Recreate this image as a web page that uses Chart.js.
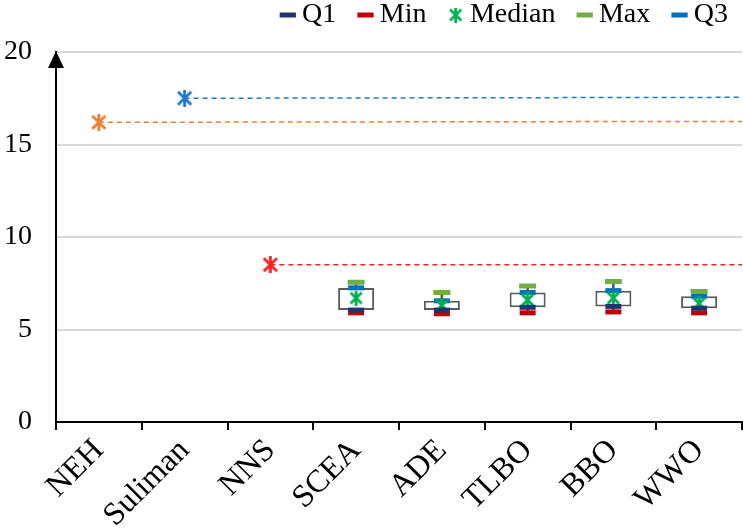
<!DOCTYPE html>
<html lang="en">
<head>
    <meta charset="UTF-8">
    <title>Box plot comparison</title>
    <script src="https://cdn.jsdelivr.net/npm/chart.js"></script>
    <style>
        body { margin: 0; background: #fff; }
        #wrap { width: 743px; height: 528px; position: relative; }
    </style>
</head>
<body>
<div id="wrap"><canvas id="boxChart"></canvas></div>
<script>
// categories and values
const categories = ['NEH', 'Suliman', 'NNS', 'SCEA', 'ADE', 'TLBO', 'BBO', 'WWO'];
const q1Vals     = [null, null, null, 6.05, 6.05, 6.2, 6.25, 6.15];
const minVals    = [null, null, null, 5.9, 5.85, 5.9, 5.95, 5.9];
const medianVals = [null, null, null, 6.7, 6.3, 6.6, 6.7, 6.4];
const maxVals    = [null, null, null, 7.55, 7.0, 7.35, 7.6, 7.05];
const q3Vals     = [null, null, null, 7.25, 6.55, 7.0, 7.1, 6.8];

// single results of the constructive methods (dashed reference lines)
const refIndex = [0, 1, 2];
const refStart = [16.2, 17.5, 8.5];
const refEnd   = [16.25, 17.55, 8.5];
const refColors = ['#ED7D31', '#1F78CC', '#FF1F1F'];

const yTicks = [0, 5, 10, 15, 20];

const FONT = '"Liberation Serif", "Times New Roman", serif';

// asterisk marker (X with a vertical bar)
function makeStar(color, size, lw) {
    const c = document.createElement('canvas');
    c.width = size; c.height = size;
    const g = c.getContext('2d');
    g.strokeStyle = color;
    g.lineWidth = lw;
    const p = lw / 2 + 0.5;
    g.beginPath();
    g.moveTo(p, p); g.lineTo(size - p, size - p);
    g.moveTo(size - p, p); g.lineTo(p, size - p);
    g.moveTo(size / 2, 0); g.lineTo(size / 2, size);
    g.stroke();
    return c;
}

function markerSet(label, values, color, style, radius) {
    return {
        type: 'line',
        label: label,
        data: values,
        showLine: false,
        pointStyle: style,
        pointRadius: radius,
        pointBorderWidth: 5,
        pointBorderColor: color,
        pointBackgroundColor: color,
        borderColor: color,
        backgroundColor: color,
        order: 0
    };
}

const datasets = [
    markerSet('Q1', q1Vals, '#1F3470', 'line', 8),
    markerSet('Min', minVals, '#C00000', 'line', 8),
    markerSet('Median', medianVals, '#00B050', makeStar('#00B050', 15, 2.8), 8),
    markerSet('Max', maxVals, '#70AD47', 'line', 8.5),
    markerSet('Q3', q3Vals, '#0070C0', 'line', 8),
    {
        type: 'bar',
        label: 'box',
        data: categories.map((c, i) => q1Vals[i] == null ? null : [q1Vals[i], q3Vals[i]]),
        backgroundColor: '#ffffff',
        borderColor: '#5a5a5a',
        borderWidth: 2,
        borderSkipped: false,
        grouped: false,
        barPercentage: 0.42,
        categoryPercentage: 1,
        order: 5
    },
    {
        type: 'bar',
        label: 'whisker',
        data: categories.map((c, i) => minVals[i] == null ? null : [minVals[i], maxVals[i]]),
        backgroundColor: '#5a5a5a',
        borderWidth: 0,
        grouped: false,
        barThickness: 2,
        order: 6
    }
];

refIndex.forEach((idx, k) => {
    datasets.push({
        type: 'line',
        label: categories[idx],
        xAxisID: 'x2',
        data: [{x: idx, y: refStart[k]}, {x: categories.length - 0.5, y: refEnd[k]}],
        borderColor: refColors[k],
        borderWidth: 1.5,
        borderDash: [5, 4],
        pointStyle: makeStar(refColors[k], 17, 2.8),
        pointRadius: [8, 0],
        order: 2
    });
});

// arrow at the top of the value axis
const axisArrow = {
    id: 'axisArrow',
    afterDraw(chart) {
        const a = chart.chartArea;
        const ctx = chart.ctx;
        ctx.save();
        ctx.fillStyle = '#000';
        ctx.beginPath();
        ctx.moveTo(a.left, a.top - 1);
        ctx.lineTo(a.left - 8, a.top + 16);
        ctx.lineTo(a.left + 8, a.top + 16);
        ctx.closePath();
        ctx.fill();
        ctx.restore();
    }
};

new Chart(document.getElementById('boxChart'), {
    type: 'line',
    data: { labels: categories, datasets: datasets },
    plugins: [axisArrow],
    options: {
        responsive: true,
        maintainAspectRatio: false,
        animation: false,
        layout: { autoPadding: false, padding: { top: -28, right: -14, bottom: 0, left: 0 } },
        plugins: {
            tooltip: { enabled: false },
            legend: {
                position: 'top',
                align: 'end',
                labels: {
                    filter: (item) => ['Q1', 'Min', 'Median', 'Max', 'Q3'].includes(item.text),
                    usePointStyle: true,
                    boxWidth: 0.5,
                    boxHeight: 11.5,
                    padding: 29,
                    color: '#000',
                    font: { family: FONT, size: 28 }
                }
            }
        },
        scales: {
            x: {
                type: 'category',
                offset: true,
                grid: {
                    offset: true,
                    drawOnChartArea: false,
                    drawTicks: true,
                    tickLength: 8,
                    color: '#000',
                    lineWidth: 2
                },
                border: { color: '#000', width: 2 },
                ticks: {
                    color: '#000',
                    font: { family: FONT, size: 32 },
                    minRotation: 45,
                    maxRotation: 45,
                    autoSkip: false,
                    padding: 2
                },
                afterFit: (scale) => { scale.height = 106; scale.paddingLeft = 0; scale.paddingRight = 1; }
            },
            // hidden linear twin of the category axis, also used as a spacer under the legend
            x2: {
                type: 'linear',
                position: 'top',
                min: -0.5,
                max: categories.length - 0.5,
                grid: { display: false },
                border: { display: false },
                ticks: { display: false },
                afterFit: (scale) => { scale.height = 13; scale.paddingLeft = 0; scale.paddingRight = 0; }
            },
            y: {
                min: yTicks[0],
                max: yTicks[yTicks.length - 1],
                afterBuildTicks: (scale) => { scale.ticks = yTicks.map(v => ({value: v})); },
                afterFit: (scale) => { scale.width = 56; },
                grid: {
                    color: (ctx) => ctx.tick && ctx.tick.value === 0 ? 'rgba(0,0,0,0)' : '#d9d9d9',
                    lineWidth: 2,
                    drawTicks: false
                },
                border: { color: '#000', width: 2 },
                ticks: {
                    color: '#000',
                    font: { family: FONT, size: 28 },
                    padding: 24
                }
            }
        }
    }
});
</script>
</body>
</html>
